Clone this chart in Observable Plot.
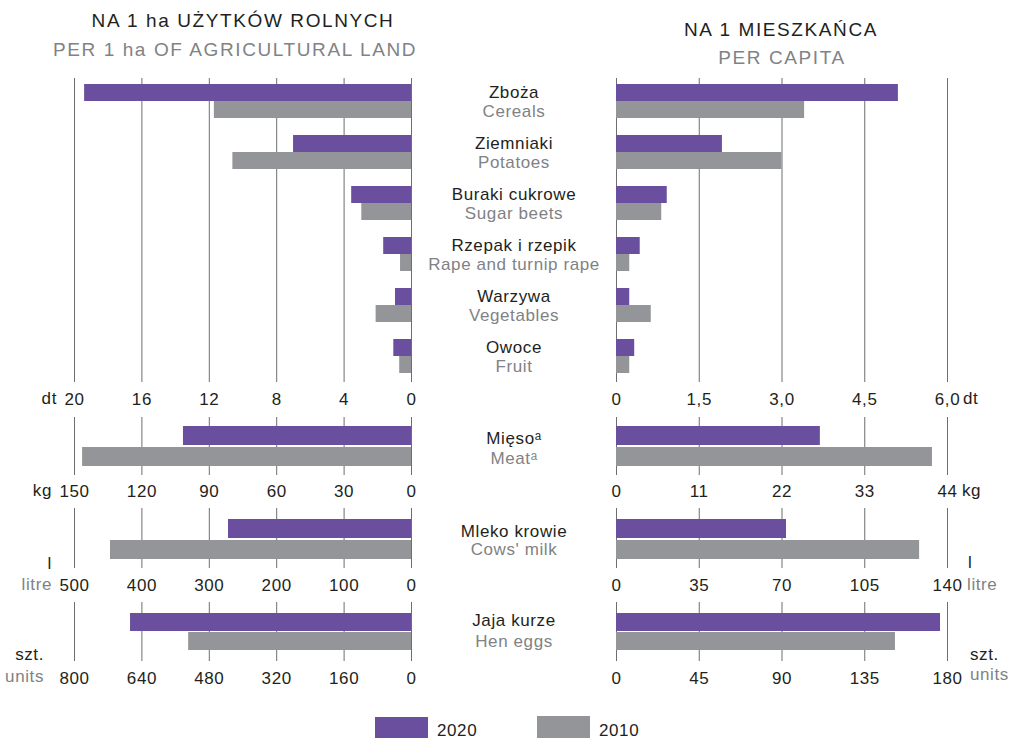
<!DOCTYPE html>
<html>
<head>
<meta charset="utf-8">
<script src="https://cdn.jsdelivr.net/npm/d3@7"></script>
<script src="https://cdn.jsdelivr.net/npm/@observablehq/plot@0.6"></script>
<style>
  html, body { margin: 0; padding: 0; background: #fff; }
  #chart { position: relative; width: 1009px; height: 739px; overflow: hidden;
    font-family: "Liberation Sans", Arial, sans-serif; color: #231f20; }
  #chart > * { position: absolute; }
  .t { white-space: nowrap; font-size: 17px; line-height: 17px; letter-spacing: 0.6px; }
  .leg { white-space: nowrap; font-size: 17px; line-height: 14px; letter-spacing: 0.6px; }
  .title { font-size: 19px; line-height: 19px; letter-spacing: 1.6px; text-align: center; width: 400px; white-space: nowrap; }
  .gray { color: #808285; }
</style>
</head>
<body>
<div id="chart"></div>
<script>
// ---------- data ----------
const years = ["2020", "2010"];
const colors = ["#6b4f9f", "#939598"];

const cropsPl = ["Zboża", "Ziemniaki", "Buraki cukrowe", "Rzepak i rzepik", "Warzywa", "Owoce"];
const cropsEn = ["Cereals", "Potatoes", "Sugar beets", "Rape and turnip rape", "Vegetables", "Fruit"];
const cropsArea2020 = [19.4, 7.0, 3.55, 1.65, 0.95, 1.05];
const cropsArea2010 = [11.7, 10.6, 2.95, 0.65, 2.1, 0.7];
const cropsCapita2020 = [5.11, 1.92, 0.92, 0.43, 0.24, 0.33];
const cropsCapita2010 = [3.41, 3.0, 0.82, 0.24, 0.63, 0.24];

const meatLabel = ["Mięsoᵃ", "Meatᵃ"];
const meatArea = [101.5, 146.4];
const meatCapita = [27.1, 42.0];

const milkLabel = ["Mleko krowie", "Cows' milk"];
const milkArea = [271.5, 446.6];
const milkCapita = [71.9, 128.2];

const eggsLabel = ["Jaja kurze", "Hen eggs"];
const eggsArea = [667, 529];
const eggsCapita = [176.2, 151.7];

const cropsAreaTicks = [0, 4, 8, 12, 16, 20];
const cropsCapitaTicks = [0, 1.5, 3.0, 4.5, 6.0];
const meatAreaTicks = [0, 30, 60, 90, 120, 150];
const meatCapitaTicks = [0, 11, 22, 33, 44];
const milkAreaTicks = [0, 100, 200, 300, 400, 500];
const milkCapitaTicks = [0, 35, 70, 105, 140];
const eggsAreaTicks = [0, 160, 320, 480, 640, 800];
const eggsCapitaTicks = [0, 45, 90, 135, 180];

// ---------- helpers ----------
const chart = document.getElementById("chart");
const baseStyle = {
  fontFamily: "'Liberation Sans', Arial, sans-serif",
  fontSize: "17px",
  letterSpacing: "0.6px",
  color: "#231f20",
  background: "transparent",
  overflow: "visible"
};

function place(node, left, top) {
  node.style.position = "absolute";
  node.style.left = left + "px";
  node.style.top = top + "px";
  chart.appendChild(node);
}

function addText(txt, cls, pos) {
  const d = document.createElement("div");
  d.className = cls;
  d.textContent = txt;
  for (const k in pos) d.style[k] = pos[k] + "px";
  chart.appendChild(d);
}

// one horizontal section: left plot, centre labels, right plot
function section(cfg) {
  const {rows, top, frameH, insetTop, insetBottom, paddingInner, tickPad,
         area, capita, areaTicks, capitaTicks, capitaFmt, labels, dyPl, dyEn} = cfg;
  const yScale = {domain: rows.domain, axis: null, insetTop, insetBottom,
                  paddingInner, paddingOuter: 0, align: 0};
  const h = frameH + 30;
  const fill = d => colors[years.indexOf(d.year)];

  // left panel (per 1 ha)
  const leftPlot = Plot.plot({
    width: 450, height: h, marginLeft: 74, marginRight: 39, marginTop: 0, marginBottom: 30,
    style: baseStyle,
    x: {domain: [0, d3.max(areaTicks)], reverse: true, ticks: areaTicks, tickSize: 0,
        tickPadding: tickPad, label: null, tickFormat: d => String(d)},
    y: yScale,
    marks: [
      Plot.ruleX(areaTicks, {stroke: "#6d6e71", strokeWidth: 1}),
      Plot.barX(area, {x: "value", y: "key", fill})
    ]
  });
  place(leftPlot, 0, top);

  // right panel (per capita)
  const rightPlot = Plot.plot({
    width: 449, height: h, marginLeft: 56, marginRight: 62, marginTop: 0, marginBottom: 30,
    style: baseStyle,
    x: {domain: [0, d3.max(capitaTicks)], ticks: capitaTicks, tickSize: 0,
        tickPadding: tickPad, label: null, tickFormat: capitaFmt || (d => String(d))},
    y: yScale,
    marks: [
      Plot.ruleX(capitaTicks, {stroke: "#6d6e71", strokeWidth: 1}),
      Plot.barX(capita, {x: "value", y: "key", fill})
    ]
  });
  place(rightPlot, 560, top);

  // centre labels
  const centre = Plot.plot({
    width: 205, height: frameH, marginLeft: 0, marginRight: 0, marginTop: 0, marginBottom: 0,
    style: baseStyle,
    x: {axis: null},
    y: yScale,
    marks: [
      Plot.text(labels, {y: "keyPl", text: "pl", fill: "#231f20", frameAnchor: "middle", textAnchor: "middle", dy: dyPl}),
      Plot.text(labels, {y: "keyEn", text: "en", fill: "#808285", frameAnchor: "middle", textAnchor: "middle", dy: dyEn})
    ]
  });
  place(centre, 411, top);
}

function rowsFor(cats) {
  const domain = [];
  cats.forEach((c, i) => {
    domain.push(c + "|2020", c + "|2010");
    if (i < cats.length - 1) domain.push("gap" + i);
  });
  return {domain};
}

function seriesData(cats, v2020, v2010) {
  const out = [];
  cats.forEach((c, i) => {
    out.push({key: c + "|2020", year: "2020", value: v2020[i]});
    out.push({key: c + "|2010", year: "2010", value: v2010[i]});
  });
  return out;
}

function labelData(cats, pl, en) {
  return cats.map((c, i) => ({keyPl: c + "|2020", keyEn: c + "|2010", pl: pl[i], en: en[i]}));
}

const commaFmt = d => d === 0 ? "0" : d.toFixed(1).replace(".", ",");

// crops
section({
  rows: rowsFor(cropsPl), top: 78, frameH: 304, insetTop: 6, insetBottom: 9, paddingInner: 0, tickPad: 10,
  area: seriesData(cropsPl, cropsArea2020, cropsArea2010),
  capita: seriesData(cropsPl, cropsCapita2020, cropsCapita2010),
  areaTicks: cropsAreaTicks, capitaTicks: cropsCapitaTicks, capitaFmt: commaFmt,
  labels: labelData(cropsPl, cropsPl, cropsEn), dyPl: 8.5, dyEn: 10
});

// single-product sections
function single(key, pl, en, area, capita, areaTicks, capitaTicks, opts) {
  section(Object.assign({
    rows: {domain: [key + "|2020", key + "|2010"]},
    area: seriesData([key], [area[0]], [area[1]]),
    capita: seriesData([key], [capita[0]], [capita[1]]),
    areaTicks, capitaTicks,
    labels: labelData([key], [pl], [en])
  }, opts));
}

single("meat", meatLabel[0], meatLabel[1], meatArea, meatCapita, meatAreaTicks, meatCapitaTicks,
  {top: 417, frameH: 58, insetTop: 9, insetBottom: 9, paddingInner: 0.1, tickPad: 9, dyPl: 12.5, dyEn: 12.5});
single("milk", milkLabel[0], milkLabel[1], milkArea, milkCapita, milkAreaTicks, milkCapitaTicks,
  {top: 508, frameH: 60, insetTop: 11, insetBottom: 9, paddingInner: 0.1, tickPad: 10, dyPl: 12.5, dyEn: 10.5});
single("eggs", eggsLabel[0], eggsLabel[1], eggsArea, eggsCapita, eggsAreaTicks, eggsCapitaTicks,
  {top: 602, frameH: 59, insetTop: 11, insetBottom: 10, paddingInner: 0.05, tickPad: 10, dyPl: 7.5, dyEn: 9});

// ---------- titles ----------
addText("NA 1 ha UŻYTKÓW ROLNYCH", "title", {left: 43, top: 11});
addText("PER 1 ha OF AGRICULTURAL LAND", "title gray", {left: 35, top: 40});
addText("NA 1 MIESZKAŃCA", "title", {left: 581, top: 20});
addText("PER CAPITA", "title gray", {left: 582, top: 48});

// ---------- unit labels ----------
addText("dt", "t", {right: 952, top: 389.6});
addText("dt", "t", {left: 963, top: 389.6});
addText("kg", "t", {right: 957, top: 481.6});
addText("kg", "t", {left: 962, top: 481.6});
addText("l", "t", {right: 957, top: 554.6});
addText("litre", "t gray", {right: 957, top: 575.6});
addText("l", "t", {left: 968, top: 553.6});
addText("litre", "t gray", {left: 967, top: 575.6});
addText("szt.", "t", {right: 965, top: 645.6});
addText("units", "t gray", {right: 965, top: 667.6});
addText("szt.", "t", {left: 970, top: 645.6});
addText("units", "t gray", {left: 970, top: 665.6});

// ---------- legend ----------
years.forEach((y, i) => {
  const sw = document.createElement("div");
  sw.style.position = "absolute";
  sw.style.left = (i === 0 ? 375 : 537) + "px";
  sw.style.top = (i === 0 ? 717 : 716) + "px";
  sw.style.width = "53px";
  sw.style.height = (i === 0 ? 21 : 22) + "px";
  sw.style.background = colors[i];
  chart.appendChild(sw);
  addText(y, "leg", {left: i === 0 ? 437 : 599, top: 723.5});
});
</script>
</body>
</html>
